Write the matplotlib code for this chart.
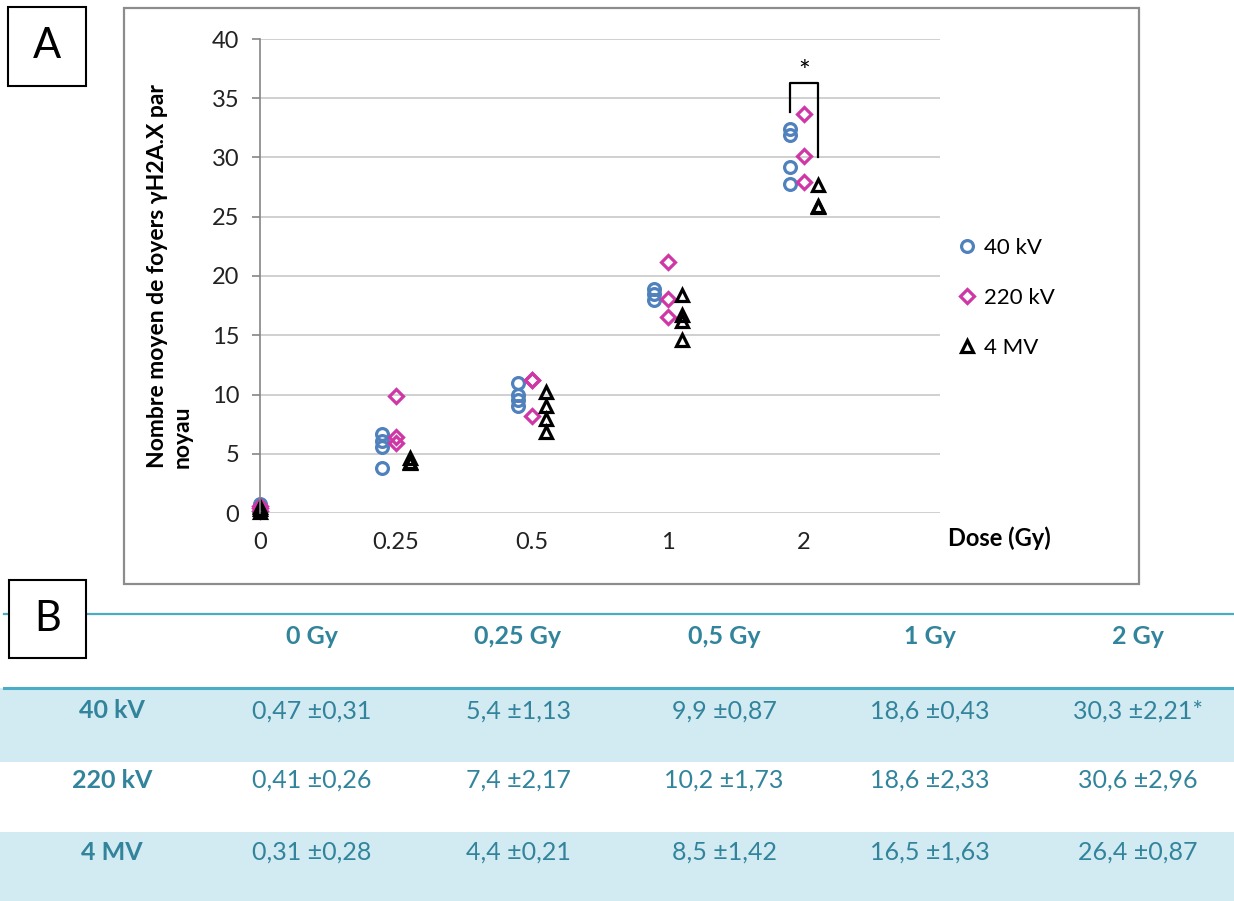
import numpy as np
import matplotlib
matplotlib.use('Agg')
import matplotlib.pyplot as plt
from matplotlib.patches import Rectangle

plt.rcParams['font.family'] = ['Lato', 'DejaVu Sans']

# Scatter data (individual experiments) per dose
doses = ['0', '0.25', '0.5', '1', '2']
kv40 = [[0.8, 0.4, 0.2], [6.7, 6.1, 5.6, 3.8], [11.0, 10.0, 9.5, 9.0],
        [18.9, 18.5, 18.0], [32.4, 31.9, 29.2, 27.8]]
kv220 = [[0.6, 0.4, 0.2], [9.9, 6.4, 5.9], [11.2, 8.2, 11.2],
         [21.2, 18.1, 16.5], [33.7, 30.1, 27.9]]
mv4 = [[0.5, 0.3, 0.1], [4.6, 4.3, 4.2], [10.2, 9.0, 7.9, 6.8],
       [18.4, 16.7, 16.2, 14.6], [27.7, 25.9, 25.8]]

# Table data
col_labels = ['0 Gy', '0,25 Gy', '0,5 Gy', '1 Gy', '2 Gy']
row_labels = ['40 kV', '220 kV', '4 MV']
table_vals = [
    ['0,47 ±0,31', '5,4 ±1,13', '9,9 ±0,87', '18,6 ±0,43', '30,3 ±2,21*'],
    ['0,41 ±0,26', '7,4 ±2,17', '10,2 ±1,73', '18,6 ±2,33', '30,6 ±2,96'],
    ['0,31 ±0,28', '4,4 ±0,21', '8,5 ±1,42', '16,5 ±1,63', '26,4 ±0,87'],
]

W, H = 1234, 901
fig = plt.figure(figsize=(W / 100, H / 100), dpi=100)

def fx(px):
    return px / W

def fy(py):
    return 1 - py / H

# ---- panel A ----
ax = fig.add_axes([fx(260), fy(513), fx(940) - fx(260), fy(39) - fy(513)])

series = [
    (kv40, 'o', '#4F81BD', -0.1, '40 kV'),
    (kv220, 'D', '#D037A6', 0.0, '220 kV'),
    (mv4, '^', 'black', 0.1, '4 MV'),
]
for data, mk, col, off, lab in series:
    xs, ys = [], []
    for i, vals in enumerate(data):
        shift = off if i > 0 else 0
        xs += [i + shift] * len(vals)
        ys += vals
    ms = 7 if mk == 'D' else 8.5
    ax.plot(xs, ys, linestyle='none', marker=mk, markersize=ms,
            markerfacecolor='none', markeredgecolor=col, markeredgewidth=2.3,
            label=lab, clip_on=False)

ax.set_xlim(0, 5)
ax.set_ylim(0, 40)
ax.set_yticks(range(0, 41, 5))
ax.set_xticks(range(5))
ax.set_xticklabels(doses)
ax.grid(axis='y', color='#c8c8c8', linewidth=1.2)
ax.set_axisbelow(True)
for s in ['top', 'right', 'bottom']:
    ax.spines[s].set_visible(False)
ax.spines['left'].set_color('#868686')
ax.spines['left'].set_linewidth(1.2)
ax.tick_params(axis='y', length=6, width=1.2, color='#868686',
               labelsize=17, pad=9, labelcolor='#222222')
ax.tick_params(axis='x', length=0, labelsize=17, pad=14, labelcolor='#222222')

# significance bracket at 2 Gy
ax.plot([3.9, 3.9, 4.1, 4.1], [33.8, 36.3, 36.3, 30.0], color='black',
        linewidth=1.6, clip_on=False)
ax.text(4.0, 36.0, '*', ha='center', va='bottom', fontsize=20)

fig.text(fx(948), fy(538), 'Dose (Gy)', fontsize=17, fontweight='bold',
         ha='left', va='center')
fig.text(fx(170), fy(276), 'Nombre moyen de foyers γH2A.X par\nnoyau',
         rotation=90, fontsize=16.5, fontweight='bold', ha='center',
         va='center', multialignment='left', linespacing=1.25)

fig.legend(loc='upper left', bbox_to_anchor=(fx(958), fy(238)), frameon=False,
           fontsize=16, handlelength=0.8, handletextpad=0.35, labelspacing=1.35,
           borderpad=0, borderaxespad=0)

# chart frame
fig.patches.append(Rectangle((fx(124), fy(584)), fx(1139) - fx(124),
                             fy(8) - fy(584), transform=fig.transFigure,
                             fill=False, edgecolor='#8c8c8c', linewidth=1.6))

# ---- panel B (table) ----
tax = fig.add_axes([0, 0, 1, fy(600)])
tax.set_xlim(0, W)
tax.set_ylim(H, 600)
tax.axis('off')

teal = '#31849B'
tax.axhspan(688, 762, color='#D2EAF1', linewidth=0)
tax.axhspan(832, H, color='#D2EAF1', linewidth=0)
tax.plot([4, W], [614, 614], color='#4BACC6', linewidth=1.6)
tax.plot([4, W], [688, 688], color='#4BACC6', linewidth=2.2)

col_x = [312, 518, 724, 930, 1138]
row_y = [711, 780, 852]
for cx, lab in zip(col_x, col_labels):
    tax.text(cx, 636, lab, ha='center', va='center', fontsize=18,
             fontweight='bold', color=teal)
for ry, lab, vals in zip(row_y, row_labels, table_vals):
    tax.text(112, ry, lab, ha='center', va='center', fontsize=18,
             fontweight='bold', color=teal)
    for cx, v in zip(col_x, vals):
        tax.text(cx, ry, v, ha='center', va='center', fontsize=18, color=teal)

# letter boxes
for (x0, y0, x1, y1, letter) in [(8, 7, 86, 86, 'A'), (9, 580, 86, 658, 'B')]:
    fig.patches.append(Rectangle((fx(x0), fy(y1)), fx(x1) - fx(x0),
                                 fy(y0) - fy(y1), transform=fig.transFigure,
                                 facecolor='white', edgecolor='black',
                                 linewidth=1.5, zorder=5))
    fig.text(fx((x0 + x1) / 2), fy((y0 + y1) / 2), letter, ha='center',
             va='center', fontsize=30, zorder=6)

fig.savefig('out.png', dpi=100)
